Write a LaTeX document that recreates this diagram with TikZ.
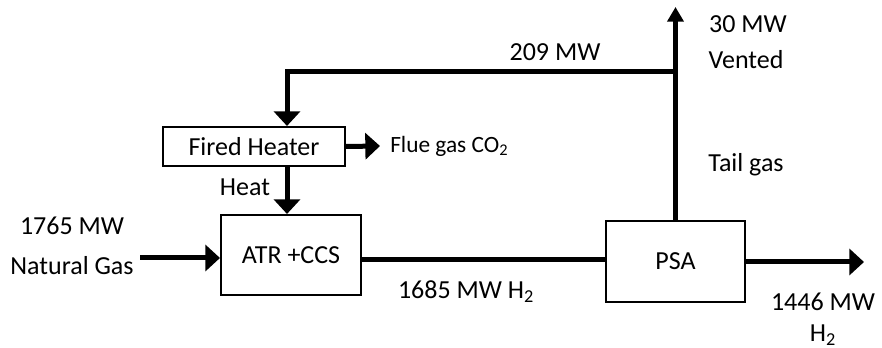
\documentclass[tikz,border=0pt]{standalone}
\usepackage{fontspec}
\setmainfont{Carlito}
\usetikzlibrary{arrows.meta}

\tikzset{
  unit/.style={draw, line width=1.5pt, inner sep=0pt},
  pipe/.style={line width=3.75pt},
  flow/.style={pipe, -{Triangle[length=11pt, width=19.5pt]}},
  vent/.style={pipe, -{Triangle[length=11pt, width=12pt]}},
}

\begin{document}
\begin{tikzpicture}[x=0.75pt, y=-0.75pt, font=\fontsize{19.5}{22}\selectfont]
    \useasboundingbox (0,0) rectangle (882,348);

    % Units
    \node[unit, minimum width=136.5pt, minimum height=29.25pt] (heater) at (254,146.5) {Fired Heater};
    \node[unit, minimum width=105pt, minimum height=60pt] (atr) at (291,255) {ATR +CCS};
    \node[unit, minimum width=104.25pt, minimum height=60.75pt] (psa) at (675.5,261.5) {PSA};

    % Stream labels
    \node (ngmw) at (72,226) {1765 MW};
    \node (ng) at (72,266) {Natural Gas};
    \node (heat) at (245,187) {Heat};
    \node[anchor=west, inner sep=7.5pt, font=\fontsize{17.5}{20}\selectfont] (flue) at (380,146) {Flue gas CO\textsubscript{2}};
    \node (h2mid) at (466,292) {1685 MW H\textsubscript{2}};
    \node (recycle) at (555,52) {209 MW};
    \node (ventmw) at (748,24) {30 MW};
    \node (vented) at (746,60) {Vented};
    \node (tail) at (746,165) {Tail gas};
    \node (prodmw) at (823,302) {1446 MW};
    \node (prod) at (823,335) {H\textsubscript{2}};

    % Points
    \coordinate (split) at (675.5,72);
    \coordinate (corner) at (287,72);
    \coordinate (ventend) at (675.5,7);
    \coordinate (ngstart) at (140,258);
    \coordinate (h2y) at (0,260);
    \coordinate (prody) at (864,262);

    % Streams
    \draw[vent] (psa.north) -- (ventend);
    \draw[pipe] (split) -- (corner);
    \draw[flow] ([yshift=1.875pt]corner) -- (corner |- heater.north);
    \draw[flow] (corner |- heater.south) -- (corner |- atr.north);
    \draw[flow] (heater.east) -- (flue.west);
    \draw[flow] (ngstart) -- (ngstart -| atr.west);
    \draw[pipe] (atr.east |- h2y) -- (psa.west |- h2y);
    \draw[flow] (psa.east |- prody) -- (prody);
\end{tikzpicture}
\end{document}
